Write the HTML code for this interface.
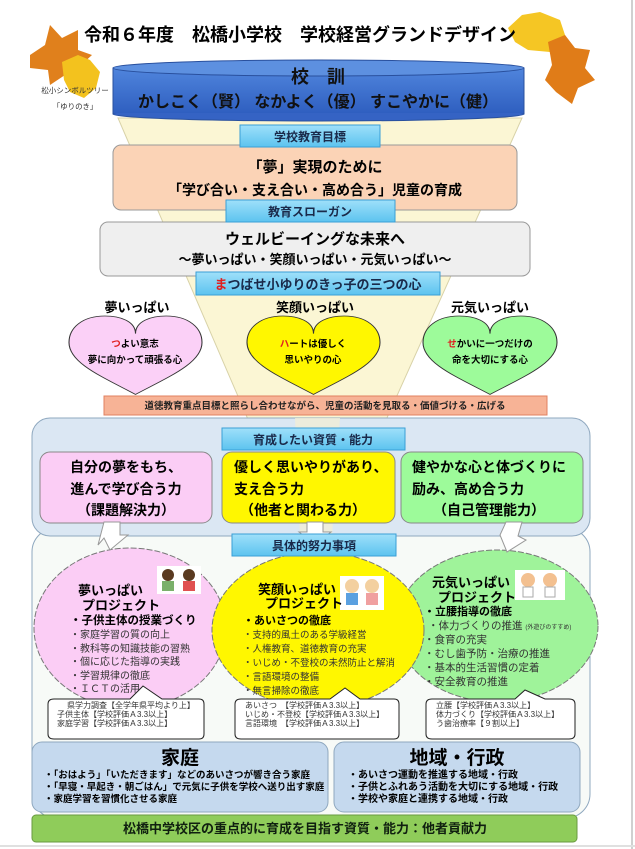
<!DOCTYPE html>
<html><head><meta charset="utf-8"><style>
html,body{margin:0;padding:0;background:#fff;}
svg{display:block;}
text{font-family:"Liberation Sans","Noto Sans CJK JP",sans-serif;}
</style></head><body>
<svg width="635" height="849" viewBox="0 0 635 849" xmlns="http://www.w3.org/2000/svg">
<defs>
<linearGradient id="blu" x1="0" y1="0" x2="0" y2="1"><stop offset="0" stop-color="#4f84dc"/><stop offset="1" stop-color="#2f5fc0"/></linearGradient>
<linearGradient id="lb" x1="0" y1="0" x2="0" y2="1"><stop offset="0" stop-color="#9fe0fa"/><stop offset="1" stop-color="#5cc3ef"/></linearGradient>
<path id="heart" d="M50,18 C50,5 38,0 27,0 C10,0 0,12 0,27 C0,48 25,62 50,80 C75,62 100,48 100,27 C100,12 90,0 73,0 C62,0 50,5 50,18 Z"/>
</defs>
<rect x="0" y="0" width="635" height="849" fill="#fff"/>
<line x1="632" y1="0" x2="632" y2="849" stroke="#d0d0d0" stroke-width="2"/>
<line x1="0" y1="846" x2="635" y2="846" stroke="#e0e0e0" stroke-width="2"/>

<!-- leaves -->
<g>
<path d="M30,55 L45,45 L50,25 L62,38 L78,30 L78,50 L92,55 L80,66 L85,82 L65,75 L50,85 L48,70 L30,68 Z" fill="#e0801c"/>
<path d="M62,62 L78,55 L90,60 L100,72 L96,88 L84,98 L70,92 L64,80 Z" fill="#f3c21e"/>
<path d="M508,28 L522,15 L540,12 L560,20 L566,38 L550,52 L528,50 L515,42 Z" fill="#f5c624"/>
<path d="M548,42 L565,35 L575,48 L590,50 L585,68 L595,80 L578,88 L572,104 L556,92 L545,80 L552,65 Z" fill="#e07c18"/>
</g>

<text x="300" y="41" font-size="18" font-weight="bold" text-anchor="middle">令和６年度　松橋小学校　学校経営グランドデザイン</text>
<text x="75" y="93" font-size="7.5" text-anchor="middle" fill="#333">松小シンボルツリー</text>
<text x="75" y="109" font-size="7.5" text-anchor="middle" fill="#333">「ゆりのき」</text>

<!-- funnel -->
<polygon points="118,118 522,118 332,540 300,540" fill="#fbf6d4" stroke="#d8d2a8" stroke-width="1"/>

<!-- cylinder -->
<rect x="113" y="68" width="411" height="46" fill="url(#blu)" stroke="#29509e"/>
<ellipse cx="318.5" cy="114" rx="205.5" ry="7" fill="#3563c4" stroke="#29509e"/>
<rect x="114" y="69" width="409" height="44" fill="url(#blu)"/>
<ellipse cx="318.5" cy="68" rx="205.5" ry="8" fill="#5d90e0" stroke="#29509e"/>
<text x="318" y="83" font-size="18" font-weight="bold" text-anchor="middle" fill="#111">校　訓</text>
<text x="318" y="107" font-size="16" font-weight="bold" text-anchor="middle" fill="#111">かしこく（賢） なかよく（優） すこやかに（健）</text>

<!-- orange goal -->
<rect x="113" y="145" width="404" height="65" rx="8" fill="#fbd3b6" stroke="#999"/>
<rect x="240" y="125" width="140" height="22" fill="url(#lb)" stroke="#3a9fd6"/>
<text x="310" y="141" font-size="12" font-weight="bold" text-anchor="middle" fill="#1a2a4a">学校教育目標</text>
<text x="315" y="172" font-size="15" font-weight="bold" text-anchor="middle">「夢」実現のために</text>
<text x="315" y="195" font-size="14" font-weight="bold" text-anchor="middle">「学び合い・支え合い・高め合う」児童の育成</text>

<!-- gray slogan -->
<rect x="100" y="222" width="430" height="54" rx="8" fill="#efefef" stroke="#999"/>
<rect x="226" y="200" width="169" height="22" fill="url(#lb)" stroke="#3a9fd6"/>
<text x="310" y="216" font-size="12" font-weight="bold" text-anchor="middle" fill="#1a2a4a">教育スローガン</text>
<text x="315" y="244" font-size="15" font-weight="bold" text-anchor="middle">ウェルビーイングな未来へ</text>
<text x="315" y="264" font-size="13" font-weight="bold" text-anchor="middle">～夢いっぱい・笑顔いっぱい・元気いっぱい～</text>

<rect x="196" y="272" width="244" height="23" fill="url(#lb)" stroke="#3a9fd6"/>
<text x="318" y="289" font-size="13" font-weight="bold" text-anchor="middle" fill="#1a2a4a"><tspan fill="#e02020">ま</tspan>つばせ小ゆりのきっ子の三つの心</text>

<!-- hearts -->
<text x="137" y="312" font-size="13" font-weight="bold" text-anchor="middle">夢いっぱい</text>
<text x="315" y="312" font-size="13" font-weight="bold" text-anchor="middle">笑顔いっぱい</text>
<text x="490" y="312" font-size="13" font-weight="bold" text-anchor="middle">元気いっぱい</text>
<use href="#heart" transform="translate(69,316) scale(1.33,0.98)" fill="#fbd0f7" stroke="#333" stroke-width="0.8"/>
<use href="#heart" transform="translate(247,316) scale(1.33,0.98)" fill="#fff700" stroke="#333" stroke-width="0.8"/>
<use href="#heart" transform="translate(423,316) scale(1.34,0.98)" fill="#9dfb9a" stroke="#333" stroke-width="0.8"/>
<text x="135" y="347" font-size="9.5" font-weight="bold" text-anchor="middle"><tspan fill="#e02020">つ</tspan>よい意志</text>
<text x="135" y="363" font-size="9.5" font-weight="bold" text-anchor="middle">夢に向かって頑張る心</text>
<text x="313" y="347" font-size="9.5" font-weight="bold" text-anchor="middle"><tspan fill="#e02020">ハ</tspan>ートは優しく</text>
<text x="313" y="363" font-size="9.5" font-weight="bold" text-anchor="middle">思いやりの心</text>
<text x="490" y="347" font-size="9.5" font-weight="bold" text-anchor="middle"><tspan fill="#e02020">せ</tspan>かいに一つだけの</text>
<text x="490" y="363" font-size="9.5" font-weight="bold" text-anchor="middle">命を大切にする心</text>

<!-- orange band -->
<rect x="104" y="396" width="443" height="19" fill="#f7b396" stroke="#e08060"/>
<text x="325" y="409" font-size="9.5" font-weight="bold" text-anchor="middle" fill="#222">道徳教育重点目標と照らし合わせながら、児童の活動を見取る・価値づける・広げる</text>

<!-- lower outer panel -->
<rect x="32" y="528" width="558" height="290" rx="24" fill="#f7faf7" stroke="#8fa8bf"/>
<!-- blue panel -->
<rect x="32" y="418" width="558" height="118" rx="18" fill="#dbe7f3" stroke="#8fa8bf"/>
<polygon points="295,418 340,418 332,536 300,536" fill="#f1eed6" opacity="0.8"/>
<rect x="222" y="428" width="183" height="22" fill="url(#lb)" stroke="#3a9fd6"/>
<text x="313" y="444" font-size="12" font-weight="bold" text-anchor="middle" fill="#1a2a4a">育成したい資質・能力</text>

<rect x="40" y="452" width="172" height="71" rx="10" fill="#fbcdf5" stroke="#888"/>
<text x="126" y="472" font-size="14" font-weight="bold" text-anchor="middle">自分の夢をもち、</text>
<text x="126" y="494" font-size="14" font-weight="bold" text-anchor="middle">進んで学び合う力</text>
<text x="126" y="515" font-size="14" font-weight="bold" text-anchor="middle">（課題解決力）</text>
<rect x="222" y="452" width="173" height="71" rx="10" fill="#fff700" stroke="#888"/>
<text x="234" y="472" font-size="14" font-weight="bold">優しく思いやりがあり、</text>
<text x="234" y="494" font-size="14" font-weight="bold">支え合う力</text>
<text x="240" y="515" font-size="14" font-weight="bold">（他者と関わる力）</text>
<rect x="401" y="452" width="182" height="71" rx="10" fill="#9dfb9a" stroke="#888"/>
<text x="412" y="472" font-size="14" font-weight="bold">健やかな心と体づくりに</text>
<text x="412" y="494" font-size="14" font-weight="bold">励み、高め合う力</text>
<text x="433" y="515" font-size="14" font-weight="bold">（自己管理能力）</text>

<!-- clouds -->
<ellipse cx="130" cy="628" rx="96" ry="80" fill="#fbcdf5" stroke="#777" stroke-dasharray="6 2"/>
<ellipse cx="497" cy="626" rx="101" ry="76" fill="#9ff39a" stroke="#777" stroke-dasharray="6 2"/>
<ellipse cx="318" cy="630" rx="106" ry="78" fill="#fff700" stroke="#777" stroke-dasharray="6 2"/>

<!-- arrows -->
<polygon points="104,522 120,522 120,535 128,535 110,550 104,538 98,545" fill="#fff" stroke="#999"/>
<polygon points="307,522 323,522 323,532 331,532 315,544 299,532 307,532" fill="#fff" stroke="#999"/>
<polygon points="506,522 522,522 518,536 526,540 507,552 500,535" fill="#fff" stroke="#999"/>

<rect x="232" y="534" width="164" height="22" fill="url(#lb)" stroke="#3a9fd6"/>
<text x="314" y="550" font-size="12" font-weight="bold" text-anchor="middle" fill="#1a2a4a">具体的努力事項</text>

<!-- kid icons -->
<g><rect x="157" y="566" width="44" height="28" fill="#fff"/><circle cx="168" cy="575" r="6" fill="#5a3a20"/><rect x="162" y="581" width="12" height="10" fill="#7ab06a"/><circle cx="189" cy="575" r="6" fill="#5a3a20"/><rect x="183" y="581" width="12" height="10" fill="#e05050"/></g>
<g><rect x="340" y="576" width="44" height="34" fill="#fff"/><circle cx="352" cy="586" r="7" fill="#f3d0a0"/><rect x="346" y="593" width="12" height="12" fill="#5aa0e0"/><circle cx="372" cy="586" r="7" fill="#f3d0a0"/><rect x="366" y="593" width="12" height="12" fill="#f0a0a0"/></g>
<g><rect x="515" y="570" width="50" height="30" fill="#fff"/><circle cx="528" cy="580" r="7" fill="#f3c090"/><rect x="523" y="587" width="10" height="10" fill="#fff" stroke="#aaa"/><circle cx="550" cy="580" r="7" fill="#f3c090"/><rect x="545" y="587" width="10" height="10" fill="#fff" stroke="#aaa"/></g>

<!-- pink cloud text -->
<text x="78" y="595" font-size="13" font-weight="bold">夢いっぱい</text>
<text x="82" y="610" font-size="13" font-weight="bold">プロジェクト</text>
<g font-size="10" fill="#333">
<text x="70" y="624" font-weight="bold" fill="#000" font-size="11.5">・子供主体の授業づくり</text>
<text x="70" y="638">・家庭学習の質の向上</text>
<text x="70" y="652">・教科等の知識技能の習熟</text>
<text x="70" y="665">・個に応じた指導の実践</text>
<text x="70" y="679">・学習規律の徹底</text>
<text x="70" y="692">・ＩＣＴの活用</text>
</g>
<!-- yellow cloud text -->
<text x="258" y="594" font-size="13" font-weight="bold">笑顔いっぱい</text>
<text x="265" y="608" font-size="13" font-weight="bold">プロジェクト</text>
<g font-size="9.5" fill="#333">
<text x="243" y="624" font-weight="bold" fill="#000" font-size="11">・あいさつの徹底</text>
<text x="243" y="638">・支持的風土のある学級経営</text>
<text x="243" y="652">・人権教育、道徳教育の充実</text>
<text x="243" y="666">・いじめ・不登校の未然防止と解消</text>
<text x="243" y="680">・言語環境の整備</text>
<text x="243" y="694">・無言掃除の徹底</text>
</g>
<!-- green cloud text -->
<text x="432" y="587" font-size="13" font-weight="bold">元気いっぱい</text>
<text x="438" y="602" font-size="13" font-weight="bold">プロジェクト</text>
<g font-size="10.5" fill="#333">
<text x="424" y="615" font-weight="bold" fill="#000" font-size="11">・立腰指導の徹底</text>
<text x="428" y="629">・体力づくりの推進 <tspan font-size="6">(外遊びのすすめ)</tspan></text>
<text x="424" y="643">・食育の充実</text>
<text x="424" y="657">・むし歯予防・治療の推進</text>
<text x="424" y="671">・基本的生活習慣の定着</text>
<text x="424" y="685">・安全教育の推進</text>
</g>

<!-- speech boxes -->
<path d="M54,699 L130,699 L143,686 L162,699 L199,699 Q204,699 204,704 L204,734 Q204,739 199,739 L54,739 Q48,739 48,734 L48,704 Q48,699 54,699 Z" fill="#fff" stroke="#222"/>
<g font-size="8" fill="#333"><text x="67" y="708">県学力調査【全学年県平均より上】</text><text x="57" y="717">子供主体【学校評価Ａ3.3以上】</text><text x="57" y="726">家庭学習【学校評価Ａ3.3以上】</text></g>
<path d="M241,699 L330,699 L345,688 L360,699 L394,699 Q399,699 399,704 L399,734 Q399,739 394,739 L241,739 Q235,739 235,734 L235,704 Q235,699 241,699 Z" fill="#fff" stroke="#222"/>
<g font-size="8" fill="#333"><text x="245" y="708">あいさつ　【学校評価Ａ3.3以上】</text><text x="245" y="717">いじめ・不登校【学校評価Ａ3.3以上】</text><text x="245" y="726">言語環境　【学校評価Ａ3.3以上】</text></g>
<path d="M432,699 L515,699 L525,690 L545,699 L569,699 Q575,699 575,704 L575,734 Q575,739 569,739 L432,739 Q426,739 426,734 L426,704 Q426,699 432,699 Z" fill="#fff" stroke="#222"/>
<g font-size="8" fill="#333"><text x="436" y="708">立腰【学校評価Ａ3.3以上】</text><text x="436" y="717">体力づくり【学校評価Ａ3.3以上】</text><text x="436" y="726">う歯治療率【９割以上】</text></g>

<!-- family / region -->
<rect x="32" y="742" width="296" height="70" rx="10" fill="#c5d9ee" stroke="#8fa8bf"/>
<text x="180" y="764" font-size="19" font-weight="bold" text-anchor="middle">家庭</text>
<g font-size="9.5" font-weight="bold"><text x="44" y="778">・「おはよう」「いただきます」などのあいさつが響き合う家庭</text><text x="44" y="790">・「早寝・早起き・朝ごはん」で元気に子供を学校へ送り出す家庭</text><text x="44" y="802">・家庭学習を習慣化させる家庭</text></g>
<rect x="334" y="742" width="246" height="70" rx="10" fill="#c5d9ee" stroke="#8fa8bf"/>
<text x="457" y="764" font-size="19" font-weight="bold" text-anchor="middle">地域・行政</text>
<g font-size="10" font-weight="bold"><text x="348" y="778">・あいさつ運動を推進する地域・行政</text><text x="348" y="790">・子供とふれあう活動を大切にする地域・行政</text><text x="348" y="802">・学校や家庭と連携する地域・行政</text></g>

<rect x="32" y="815" width="545" height="27" rx="4" fill="#8fcc5a" stroke="#6a9a40"/>
<text x="305" y="833" font-size="13" font-weight="bold" text-anchor="middle" fill="#102010">松橋中学校区の重点的に育成を目指す資質・能力：他者貢献力</text>
</svg>
</body></html>
